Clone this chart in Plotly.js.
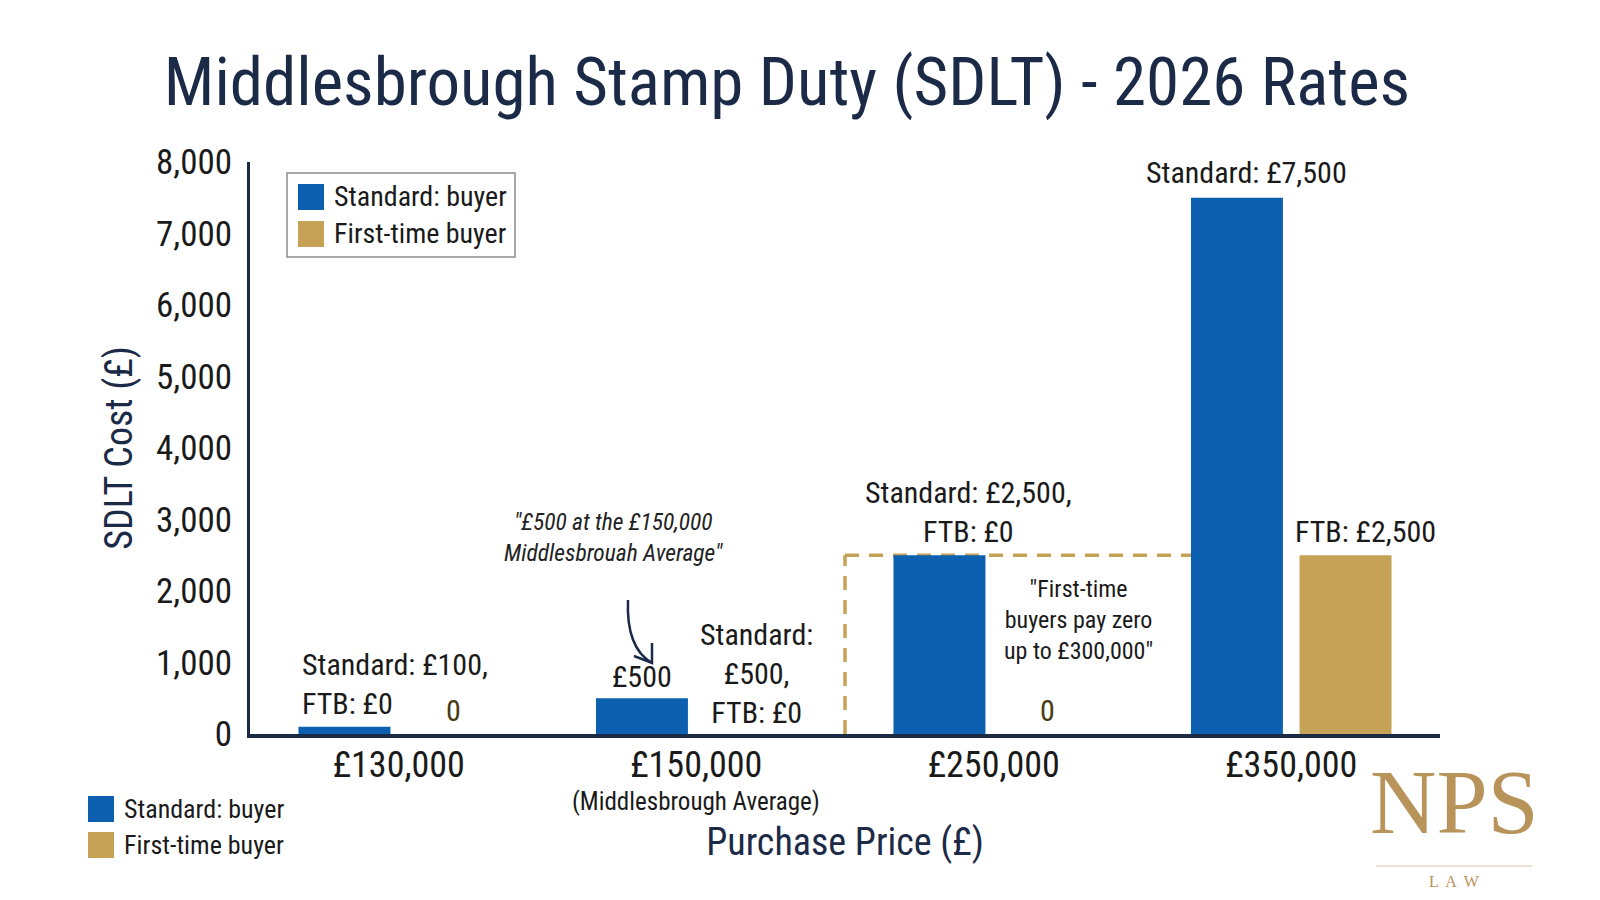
<!DOCTYPE html>
<html>
<head>
<meta charset="utf-8">
<script src="https://cdn.plot.ly/plotly-3.0.1.min.js"></script>
<style>html,body{margin:0;padding:0;background:#fff;}#chart{width:1600px;height:900px;}</style>
</head>
<body>
<div id="chart"></div>
<script>
// ---- data ----
const categories = ['£130,000', '£150,000', '£250,000', '£350,000'];
const standardValues = [100, 500, 2500, 7500];
const ftbValues = [0, 0, 0, 2500];
const yTickValues = [0, 1000, 2000, 3000, 4000, 5000, 6000, 7000, 8000];
const yTickLabels = ['0', '1,000', '2,000', '3,000', '4,000', '5,000', '6,000', '7,000', '8,000'];
const seriesNames = ['Standard: buyer', 'First-time buyer'];

// ---- style ----
const FONT = 'Roboto Condensed, Liberation Sans Narrow, Roboto, sans-serif';
const BLUE = '#0d5fb0';
const GOLD = '#c5a255';
const NAVY = '#1b2a47';
const INK = '#1a1a1a';
const W = 1600, H = 900;
const M = {l: 250, r: 160, t: 162, b: 166};
const px = x => (x - M.l) / (W - M.l - M.r);
const py = y => (H - M.b - y) / (H - M.t - M.b);

const traces = [
  {type: 'bar', name: seriesNames[0], x: categories, y: standardValues,
   marker: {color: BLUE}, showlegend: false, hoverinfo: 'x+y'},
  {type: 'bar', name: seriesNames[1], x: categories, y: ftbValues,
   marker: {color: GOLD}, showlegend: false, hoverinfo: 'x+y'}
];

const ann = [];
function a(o) { ann.push(Object.assign({showarrow: false, font: {family: FONT, size: 30, color: INK}}, o)); }

// bar labels
a({x: categories[0], y: standardValues[0], xref: 'x', yref: 'y', xanchor: 'left', yanchor: 'bottom',
   xshift: -99, yshift: 4, align: 'left', text: 'Standard: £100,<br>FTB: £0'});
a({x: categories[0], y: ftbValues[0], xref: 'x', yref: 'y', xanchor: 'center', yanchor: 'bottom',
   xshift: 55, yshift: 4, text: '0', font: {family: FONT, size: 30, color: '#4a3a12'}});
a({x: categories[1], y: standardValues[1], xref: 'x', yref: 'y', xanchor: 'center', yanchor: 'bottom',
   xshift: -54, yshift: 2, text: '£500'});
a({x: categories[1], y: ftbValues[1], xref: 'x', yref: 'y', xanchor: 'center', yanchor: 'bottom',
   xshift: 60, yshift: 2, text: 'Standard:<br>£500,<br>FTB: £0'});
a({x: categories[1], y: 2755, xref: 'x', yref: 'y', xanchor: 'center', yanchor: 'middle',
   xshift: -83, text: '<i>"£500 at the £150,000<br>Middlesbrouah Average"</i>',
   font: {family: FONT, size: 23.5, color: '#222'}});
a({x: categories[2], y: standardValues[2], xref: 'x', yref: 'y', xanchor: 'center', yanchor: 'bottom',
   xshift: -25, yshift: 4, text: 'Standard: £2,500,<br>FTB: £0'});
a({x: categories[2], y: ftbValues[2], xref: 'x', yref: 'y', xanchor: 'center', yanchor: 'bottom',
   xshift: 54, yshift: 4, text: '0', font: {family: FONT, size: 30, color: '#4a3a12'}});
a({x: categories[2], y: 1594, xref: 'x', yref: 'y', xanchor: 'center', yanchor: 'middle',
   xshift: 85, text: '"First-time<br>buyers pay zero<br>up to £300,000"',
   font: {family: FONT, size: 24, color: INK}});
a({x: categories[3], y: standardValues[3], xref: 'x', yref: 'y', xanchor: 'center', yanchor: 'bottom',
   xshift: -45, yshift: 6, text: 'Standard: £7,500'});
a({x: categories[3], y: ftbValues[3], xref: 'x', yref: 'y', xanchor: 'center', yanchor: 'bottom',
   xshift: 74, yshift: 4, text: 'FTB: £2,500'});
// sub tick label
a({x: categories[1], y: py(801), xref: 'x', yref: 'paper', xanchor: 'center', yanchor: 'middle',
   text: '(Middlesbrough Average)', font: {family: FONT, size: 25, color: INK}});

// legends (drawn)
const legendItems = [
  {name: seriesNames[0], color: BLUE},
  {name: seriesNames[1], color: GOLD}
];
const shapes = [];
function legend(boxX, firstY, step, size, textSize) {
  legendItems.forEach((it, i) => {
    const y0 = firstY + i * step;
    shapes.push({type: 'rect', xref: 'paper', yref: 'paper', x0: px(boxX), x1: px(boxX + size),
      y0: py(y0), y1: py(y0 + size), fillcolor: it.color, line: {width: 0}});
    a({x: px(boxX + size + 8), y: py(y0 + size / 2), xref: 'paper', yref: 'paper', xanchor: 'left',
      yanchor: 'middle', text: it.name, font: {family: FONT, size: textSize, color: INK}});
  });
}
shapes.push({type: 'rect', xref: 'paper', yref: 'paper', x0: px(287), x1: px(515), y0: py(173), y1: py(257),
  fillcolor: '#ffffff', line: {color: '#8a8a8a', width: 1.5}});
legend(298, 184, 37, 26, 28);
legend(88, 796, 36, 26, 26);

// dashed FTB zero band (top and left edges)
const dashLine = {color: GOLD, width: 3.5, dash: '14px,10px'};
shapes.push({type: 'line', xref: 'x', yref: 'y', x0: 1.5, x1: 1.5, y0: 0, y1: 2500, layer: 'below', line: dashLine});
shapes.push({type: 'line', xref: 'x', yref: 'y', x0: 1.5, x1: 2.68, y0: 2500, y1: 2500, layer: 'below', line: dashLine});

// curved arrow
shapes.push({type: 'path', xref: 'paper', yref: 'paper',
  path: `M${px(628)},${py(600)} Q${px(626)},${py(648)} ${px(652)},${py(663)}`,
  line: {color: NAVY, width: 2.5}});
shapes.push({type: 'path', xref: 'paper', yref: 'paper',
  path: `M${px(634)},${py(656)} L${px(652)},${py(663)} L${px(652)},${py(643)}`,
  line: {color: NAVY, width: 2.5}});

// logo
a({x: px(1454), y: py(802), xref: 'paper', yref: 'paper', xanchor: 'center', yanchor: 'middle',
   text: 'NPS', font: {family: 'Liberation Serif, DejaVu Serif, serif', size: 92, color: '#b8935a'}});
shapes.push({type: 'line', xref: 'paper', yref: 'paper', x0: px(1376), x1: px(1532), y0: py(866), y1: py(866),
  line: {color: '#d8c4a0', width: 1}});
a({x: px(1454), y: py(881), xref: 'paper', yref: 'paper', xanchor: 'center', yanchor: 'middle',
   text: 'L  A  W', font: {family: 'Liberation Serif, DejaVu Serif, serif', size: 16, color: '#b8935a'}});

const layout = {
  width: W, height: H,
  margin: M,
  paper_bgcolor: '#ffffff', plot_bgcolor: '#ffffff',
  font: {family: FONT, color: INK},
  title: {text: 'Middlesbrough Stamp Duty (SDLT) - 2026 Rates', x: 787 / W, xanchor: 'center',
    y: 1 - 82 / H, yanchor: 'middle', font: {family: FONT, size: 67, color: NAVY}},
  barmode: 'group', bargap: 0.27, bargroupgap: 0.153,
  xaxis: {type: 'category', categoryorder: 'array', categoryarray: categories,
    showline: true, linecolor: NAVY, linewidth: 4, showgrid: false, zeroline: false, ticks: '',
    tickfont: {family: FONT, size: 36, color: INK}, ticklabelstandoff: -4,
    title: {text: 'Purchase Price (£)', standoff: 44, font: {family: FONT, size: 38, color: NAVY}}},
  yaxis: {range: [0, 8000], tickvals: yTickValues, ticktext: yTickLabels,
    showline: true, linecolor: NAVY, linewidth: 3, showgrid: false, zeroline: false, ticks: '',
    tickfont: {family: FONT, size: 35, color: INK}, ticklabelstandoff: 8,
    title: {text: 'SDLT Cost (£)', standoff: 12, font: {family: FONT, size: 38, color: NAVY}}},
  annotations: ann,
  shapes: shapes
};

Plotly.newPlot('chart', traces, layout, {displayModeBar: false, staticPlot: true});
</script>
</body>
</html>
